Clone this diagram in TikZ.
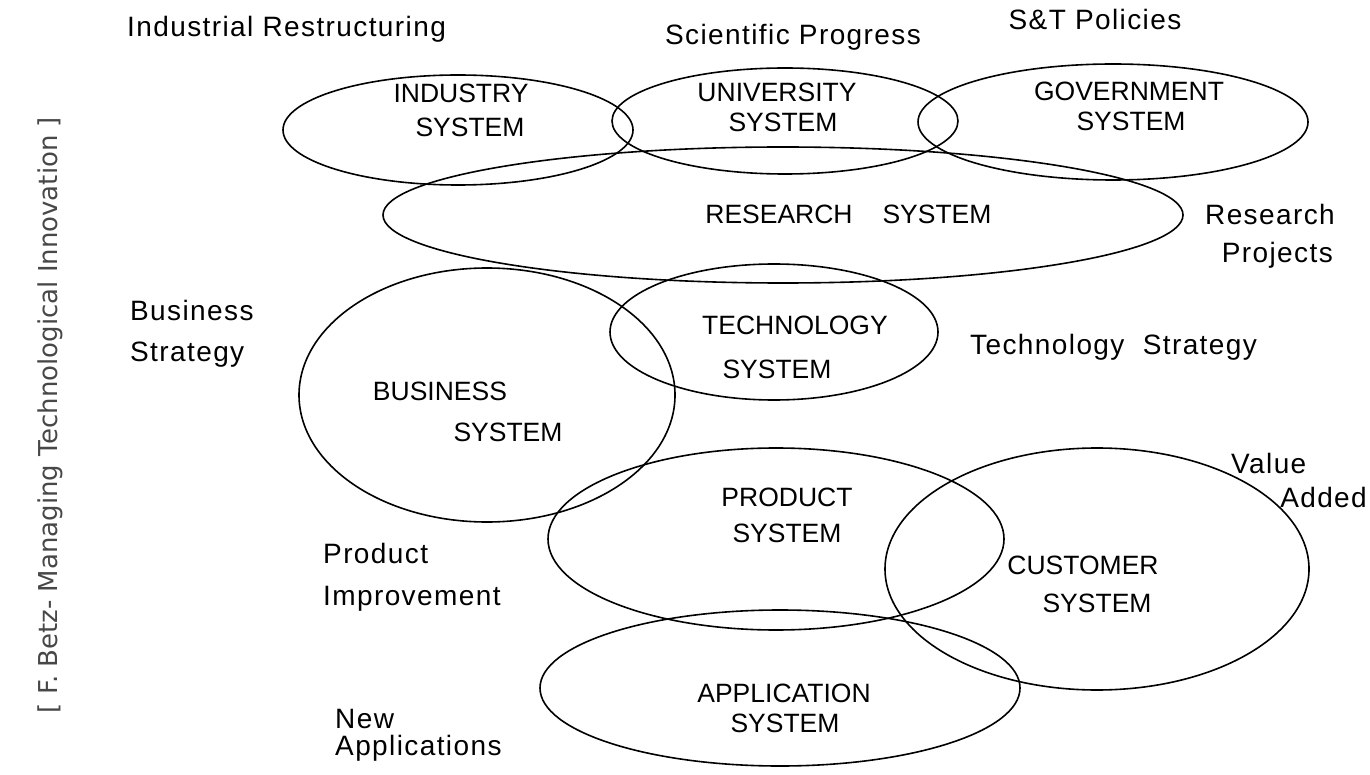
\documentclass[tikz,border=0pt]{standalone}
\usepackage{fontspec}
\setmainfont{Liberation Sans}
\newfontfamily\notefont{DejaVu Sans}
\begin{document}
\begin{tikzpicture}[x=1pt,y=-1pt,
  sys/.style={draw=black, line width=1.6pt},
  inlab/.style={font=\fontsize{26.5}{26.5}\selectfont, inner sep=0pt, anchor=base},
  outlab/.style={font=\fontsize{28}{28}\selectfont\addfontfeature{LetterSpace=5}, inner sep=0pt, anchor=base west}]
\useasboundingbox (0,0) rectangle (1370,775);
% ellipse centres
\coordinate (ind) at (458,130);
\coordinate (uni) at (785,121);
\coordinate (gov) at (1113,122);
\coordinate (res) at (783,215);
\coordinate (bus) at (487,395);
\coordinate (tec) at (774,332);
\coordinate (pro) at (776,539);
\coordinate (cus) at (1097,569);
\coordinate (app) at (780,688);
% ellipses
\draw[sys] (ind) ellipse [x radius=175pt, y radius=55pt];
\draw[sys] (uni) ellipse [x radius=173pt, y radius=53pt];
\draw[sys] (gov) ellipse [x radius=195pt, y radius=58pt];
\draw[sys] (res) ellipse [x radius=400pt, y radius=68pt];
\draw[sys] (bus) ellipse [x radius=188pt, y radius=127pt];
\draw[sys] (tec) ellipse [x radius=164pt, y radius=68pt];
\draw[sys] (pro) ellipse [x radius=228pt, y radius=91pt];
\draw[sys] (cus) ellipse [x radius=212pt, y radius=121pt];
\draw[sys] (app) ellipse [x radius=240pt, y radius=78pt];
% inner labels
\node[inlab] (indA) at (461,103) {INDUSTRY};
\node[inlab] (indB) at (470,137) {SYSTEM};
\node[inlab] (uniA) at (777,102) {UNIVERSITY};
\node[inlab] (uniB) at (783,132) {SYSTEM};
\node[inlab] (govA) at (1129,101) {GOVERNMENT};
\node[inlab] (govB) at (1131,131) {SYSTEM};
\node[inlab] (resA) at (779,224) {RESEARCH};
\node[inlab] (resB) at (937,224) {SYSTEM};
\node[inlab] (tecA) at (795,335) {TECHNOLOGY};
\node[inlab] (tecB) at (777,378) {SYSTEM};
\node[inlab] (busA) at (440,400) {BUSINESS};
\node[inlab] (busB) at (508,441) {SYSTEM};
\node[inlab] (proA) at (787,506) {PRODUCT};
\node[inlab] (proB) at (787,542) {SYSTEM};
\node[inlab] (cusA) at (1083,574) {CUSTOMER};
\node[inlab] (cusB) at (1097,612) {SYSTEM};
\node[inlab] (appA) at (784,702) {APPLICATION};
\node[inlab] (appB) at (785,732) {SYSTEM};
% outer labels
\node[outlab] (l1) at (127,37) {Industrial Restructuring};
\node[outlab, anchor=base] (l2) at (793,45) {Scientific Progress};
\node[outlab, anchor=base] (l3) at (1095,30) {S\&T Policies};
\node[outlab, anchor=base east] (l4a) at (1335,225) {Research};
\node[outlab, anchor=base east] (l4b) at (1333,263) {Projects};
\node[outlab] (l5a) at (130,321) {Business};
\node[outlab] (l5b) at (130,361) {Strategy};
\node[outlab] (l6) at (970,355) {Technology\ \ Strategy};
\node[outlab] (l7a) at (1231,473) {Value};
\node[outlab, anchor=base east] (l7b) at (1367,507) {Added};
\node[outlab] (l8a) at (323,563) {Product};
\node[outlab] (l8b) at (323,605) {Improvement};
\node[outlab] (l9a) at (335,728) {New};
\node[outlab] (l9b) at (335,755) {Applications};
% source note
\node[rotate=90, inner sep=0pt, text=black!72, font=\notefont\fontsize{26}{26}\selectfont] (src) at (50,415) {[ F. Betz- Managing Technological Innovation ]};
\end{tikzpicture}
\end{document}
